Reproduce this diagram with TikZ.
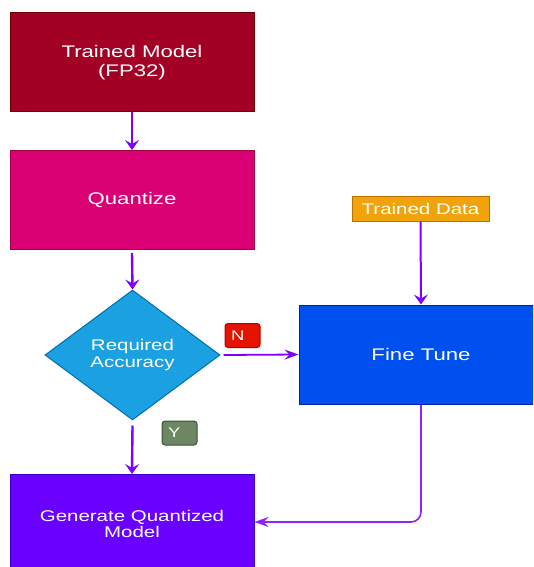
\documentclass[tikz,border=0pt]{standalone}
\usepackage{fontspec}
\setmainfont{Liberation Sans}[FakeStretch=1.32]
\usetikzlibrary{shapes.geometric,arrows.meta}

\definecolor{flowline}{HTML}{7F00FF}
\definecolor{returnline}{HTML}{9022FF}
\definecolor{modelfill}{HTML}{A20025}
\definecolor{modeledge}{HTML}{6F0000}
\definecolor{quantfill}{HTML}{D80073}
\definecolor{quantedge}{HTML}{A50040}
\definecolor{accfill}{HTML}{1BA1E2}
\definecolor{accedge}{HTML}{006EAF}
\definecolor{tunefill}{HTML}{0050EF}
\definecolor{tuneedge}{HTML}{001DBC}
\definecolor{datafill}{HTML}{F0A30A}
\definecolor{dataedge}{HTML}{BD7000}
\definecolor{genfill}{HTML}{6A00FF}
\definecolor{genedge}{HTML}{3700CC}
\definecolor{nofill}{HTML}{E51400}
\definecolor{noedge}{HTML}{B20000}
\definecolor{yesfill}{HTML}{6D8764}
\definecolor{yesedge}{HTML}{3A5431}

\tikzset{
  block/.style={rectangle, draw, line width=1pt, minimum width=244pt, minimum height=99pt,
    text=white, align=center, inner sep=0pt, font=\fontsize{16.8}{19}\selectfont},
  decision/.style={diamond, draw, line width=1pt, minimum width=175pt, minimum height=130pt,
    aspect=1.35, inner sep=0pt, text=white, align=center, font=\fontsize{15.5}{16.5}\selectfont},
  databox/.style={rectangle, draw, line width=1pt, minimum width=137pt, minimum height=25pt,
    inner sep=0pt, text=white, font=\fontsize{15.5}{18}\selectfont},
  tag/.style={rectangle, rounded corners=3pt, draw, line width=1pt, minimum height=24pt,
    text width=23pt, inner xsep=6pt, inner ysep=0pt, align=left, text=white,
    font=\fontsize{14}{16}\selectfont},
  vflow/.style={draw=flowline, line width=2.4pt,
    -{Stealth[length=10pt,width=14pt,inset=4pt]}},
  hflow/.style={draw=flowline, line width=1.8pt,
    -{Stealth[length=14pt,width=10pt,inset=5pt]}},
  thinflow/.style={draw=flowline, line width=2pt,
    -{Stealth[length=10pt,width=14pt,inset=4pt]}},
  backflow/.style={draw=returnline, line width=1.6pt, rounded corners=10pt,
    -{Stealth[length=14pt,width=10pt,inset=5pt]}},
}

\begin{document}
\begin{tikzpicture}[x=1pt,y=-1pt]
  \useasboundingbox (0,0) rectangle (533,567);
  \clip (0,0) rectangle (533,567);

  % process boxes
  \node[block, fill=modelfill, draw=modeledge] (trained) at (132,62.5) {Trained Model\\(FP32)};
  \node[block, fill=quantfill, draw=quantedge] (quant) at (132,200) {Quantize};
  \node[decision, fill=accfill, draw=accedge] (acc) at (132.5,355) {Required\\Accuracy};
  \node[block, fill=tunefill, draw=tuneedge] (tune) at (421,354.5) {Fine Tune};
  \node[databox, fill=datafill, draw=dataedge] (data) at (420.5,208.5) {Trained Data};
  \node[block, fill=genfill, draw=genedge, font=\fontsize{15.5}{16.7}\selectfont] (gen) at (132,524) {Generate Quantized\\Model};

  % branch tags
  \node[tag, fill=nofill, draw=noedge] (no) at (242.5,335.5) {N};
  \node[tag, fill=yesfill, draw=yesedge] (yes) at (179.5,433) {Y};

  % connectors
  \draw[vflow] (trained.south) -- (quant.north);
  \draw[vflow] ([yshift=-3pt]quant.south) -- (acc.north);
  \draw[hflow] ([xshift=3pt]acc.east) -- (tune.west);
  \draw[vflow] ([yshift=-5pt]acc.south) -- (gen.north);
  \draw[thinflow] (data.south) -- (tune.north);
  \coordinate (turn) at (tune.south |- 0,522);
  \draw[backflow] (tune.south) -- (turn) -- (gen.east |- turn);
\end{tikzpicture}
\end{document}
